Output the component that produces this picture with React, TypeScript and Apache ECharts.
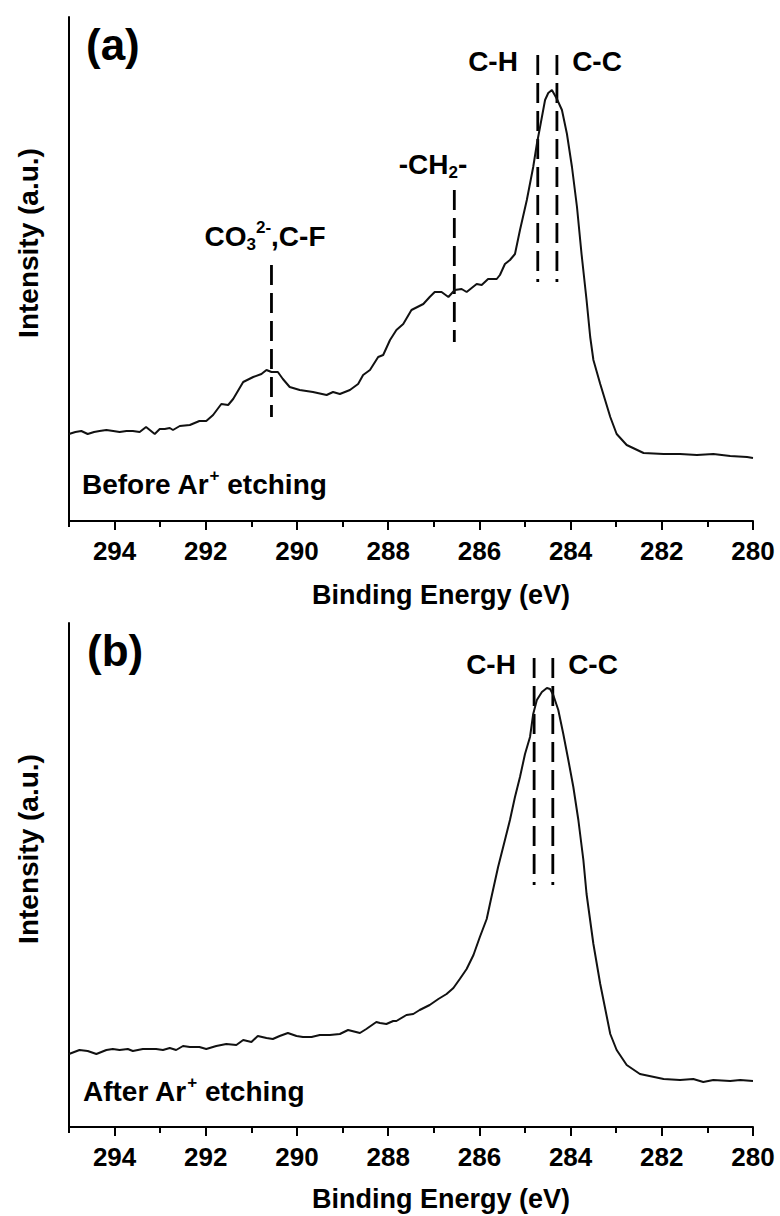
import React, { useEffect, useRef } from "react";
import * as echarts from "echarts";

// Panel (a): before Ar+ etching — binding energy (eV) vs intensity (a.u.)
const energyA = [295.0, 294.86, 294.73, 294.59, 294.45, 294.33, 294.18, 294.03, 293.89, 293.74, 293.6, 293.45, 293.31, 293.12, 293.01, 292.9, 292.79, 292.72, 292.57, 292.35, 292.14, 291.99, 291.84, 291.66, 291.51, 291.4, 291.18, 290.96, 290.78, 290.67, 290.56, 290.42, 290.31, 290.16, 289.94, 289.65, 289.35, 289.21, 289.06, 288.84, 288.66, 288.55, 288.4, 288.22, 288.11, 287.96, 287.82, 287.67, 287.49, 287.23, 287.09, 286.98, 286.83, 286.68, 286.54, 286.39, 286.28, 286.06, 285.95, 285.81, 285.62, 285.55, 285.44, 285.33, 285.22, 285.11, 284.96, 284.82, 284.74, 284.67, 284.56, 284.49, 284.41, 284.3, 284.19, 284.08, 283.97, 283.86, 283.76, 283.65, 283.57, 283.5, 283.35, 283.13, 282.99, 282.77, 282.4, 281.96, 281.6, 281.23, 280.87, 280.5, 280.13, 280.0];
const intensityA = [87, 89, 90, 87, 89, 90, 91, 90, 89, 90, 90, 89, 94, 87, 92, 92, 93, 91, 95, 96, 100, 100, 106, 117, 116, 122, 139, 144, 147, 151, 149, 149, 142, 134, 131, 129, 126, 129, 127, 131, 137, 146, 151, 164, 166, 181, 191, 197, 211, 217, 224, 229, 229, 224, 231, 232, 229, 237, 236, 242, 242, 246, 257, 261, 267, 291, 321, 354, 377, 394, 421, 428, 431, 422, 411, 387, 354, 314, 267, 221, 184, 161, 137, 104, 87, 76, 68, 67, 67, 66, 67, 65, 64, 63];

// Panel (b): after Ar+ etching
const energyB = [295.0, 294.77, 294.59, 294.4, 294.18, 294.04, 293.89, 293.71, 293.6, 293.38, 293.09, 292.94, 292.79, 292.65, 292.5, 292.35, 292.14, 291.99, 291.77, 291.55, 291.33, 291.18, 291.0, 290.86, 290.67, 290.53, 290.38, 290.2, 290.01, 289.87, 289.68, 289.5, 289.28, 289.06, 288.88, 288.62, 288.48, 288.26, 288.18, 288.04, 287.89, 287.82, 287.6, 287.45, 287.31, 287.09, 286.9, 286.72, 286.57, 286.43, 286.28, 286.13, 285.99, 285.84, 285.75, 285.59, 285.44, 285.33, 285.22, 285.11, 285.0, 284.89, 284.82, 284.74, 284.63, 284.52, 284.45, 284.38, 284.27, 284.16, 284.05, 283.94, 283.83, 283.72, 283.65, 283.5, 283.35, 283.13, 282.99, 282.77, 282.48, 281.96, 281.6, 281.31, 281.09, 280.87, 280.5, 280.28, 280.0];
const intensityB = [73, 77, 76, 73, 77, 78, 77, 78, 76, 78, 78, 77, 79, 77, 81, 80, 80, 78, 81, 83, 82, 87, 85, 91, 89, 88, 91, 94, 91, 90, 90, 92, 92, 93, 97, 94, 98, 105, 104, 103, 106, 106, 112, 113, 117, 122, 128, 133, 139, 148, 158, 172, 190, 208, 227, 260, 287, 307, 330, 350, 373, 390, 413, 427, 435, 439, 438, 432, 417, 393, 367, 340, 307, 267, 233, 183, 143, 93, 77, 62, 53, 48, 47, 48, 45, 47, 46, 47, 46];

// Reference peak positions (dashed markers)
const peakEnergiesA = [290.56, 286.55, 284.72, 284.3];
const peakTopA = [256, 331, 466, 466];
const peakBottomA = [104, 179, 239, 239];
const peakEnergiesB = [284.8, 284.39];
const peakTopB = [469, 469];
const peakBottomB = [242, 242];

// Texts
const xTickValues = [280, 282, 284, 286, 288, 290, 292, 294];
const xAxisTitle = "Binding Energy (eV)";
const yAxisTitle = "Intensity (a.u.)";

const FONT = "'Liberation Sans', Arial, Helvetica, sans-serif";

export default function App() {
  const ref = useRef<HTMLDivElement>(null);

  useEffect(() => {
    if (!ref.current) return;
    const chart = echarts.init(ref.current, undefined, { renderer: "svg" });

    const gridTops = [17, 623];
    const gridH = 504;

    const xMajor = (gridIndex: number) => ({
      type: "value",
      gridIndex,
      min: 280,
      max: 295,
      interval: 2,
      inverse: true,
      position: "bottom",
      axisLine: { show: false },
      axisTick: { show: true, length: 9, lineStyle: { color: "#000", width: 2 } },
      axisLabel: {
        show: true,
        margin: 17,
        color: "#000",
        fontSize: 26,
        fontWeight: "bold",
        fontFamily: FONT,
        showMaxLabel: false,
        showMinLabel: true,
        formatter: (v: number) => (xTickValues.indexOf(v) >= 0 ? String(v) : ""),
      },
      splitLine: { show: false },
    });
    const xMinor = (gridIndex: number) => ({
      type: "value",
      gridIndex,
      min: 280,
      max: 295,
      interval: 1,
      inverse: true,
      position: "bottom",
      axisLine: { show: true, lineStyle: { color: "#000", width: 2 } },
      axisTick: { show: true, length: 6, lineStyle: { color: "#000", width: 2 } },
      axisLabel: { show: false },
      splitLine: { show: false },
    });
    const yAx = (gridIndex: number) => ({
      type: "value",
      gridIndex,
      min: 0,
      max: 504,
      axisLine: { show: true, lineStyle: { color: "#000", width: 2 } },
      axisTick: { show: false },
      axisLabel: { show: false },
      splitLine: { show: false },
    });

    const curve = (xs: number[], ys: number[], xAxisIndex: number, yAxisIndex: number) => ({
      type: "line",
      xAxisIndex,
      yAxisIndex,
      data: xs.map((x, i) => [x, ys[i]]),
      showSymbol: false,
      symbol: "none",
      lineStyle: { color: "#111", width: 2 },
      z: 3,
    });
    const dashes = (es: number[], tops: number[], bottoms: number[], xAxisIndex: number, yAxisIndex: number) =>
      es.map((e, i) => ({
        type: "line",
        xAxisIndex,
        yAxisIndex,
        data: [
          [e, tops[i]],
          [e, bottoms[i]],
        ],
        showSymbol: false,
        symbol: "none",
        lineStyle: { color: "#000", width: 2.8, type: [20, 8] },
        z: 2,
      }));

    const rich = {
      n: { fontSize: 28, fontWeight: "bold", fontFamily: FONT, fill: "#000", lineHeight: 34 },
      sub: { fontSize: 17, fontWeight: "bold", fontFamily: FONT, fill: "#000", lineHeight: 18, verticalAlign: "bottom" },
      sup: { fontSize: 17, fontWeight: "bold", fontFamily: FONT, fill: "#000", lineHeight: 23, verticalAlign: "top" },
    };
    const txt = (text: string, x: number, y: number, size = 28, align = "center", rotation = 0) => ({
      type: "text",
      x,
      y,
      rotation,
      style: {
        text,
        fill: "#000",
        fontSize: size,
        fontWeight: "bold",
        fontFamily: FONT,
        align,
        verticalAlign: "middle",
        textAlign: align,
        textVerticalAlign: "middle",
        rich,
      },
    });

    chart.setOption({
      animation: false,
      backgroundColor: "#fff",
      grid: [
        { left: 69, right: 27, top: gridTops[0], height: gridH, containLabel: false },
        { left: 69, right: 27, top: gridTops[1], height: gridH, containLabel: false },
      ],
      xAxis: [xMinor(0), xMajor(0), xMinor(1), xMajor(1)],
      yAxis: [yAx(0), yAx(1)],
      series: [
        curve(energyA, intensityA, 0, 0),
        curve(energyB, intensityB, 2, 1),
        ...dashes(peakEnergiesA, peakTopA, peakBottomA, 0, 0),
        ...dashes(peakEnergiesB, peakTopB, peakBottomB, 2, 1),
      ],
      graphic: [
        txt("(a)", 86, 44, 44, "left"),
        txt("(b)", 87, 650, 44, "left"),
        txt("{n|CO}{sub|3}{sup|2-}{n|,C-F}", 265, 236),
        txt("{n|-CH}{sub|2}{n|-}", 433, 164),
        txt("C-H", 493, 61),
        txt("C-C", 597, 61),
        txt("C-H", 491, 664),
        txt("C-C", 593, 664),
        txt("{n|Before Ar}{sup|+}{n| etching}", 82, 484, 28, "left"),
        txt("{n|After Ar}{sup|+}{n| etching}", 83, 1091, 28, "left"),
        txt(xAxisTitle, 441, 595, 27),
        txt(xAxisTitle, 441, 1199, 27),
        txt(yAxisTitle, 28, 243, 28, "center", Math.PI / 2),
        txt(yAxisTitle, 28, 849, 28, "center", Math.PI / 2),
      ],
    });

    return () => chart.dispose();
  }, []);

  return (
    <div
      ref={ref}
      style={{ position: "absolute", left: 0, top: 0, width: 780, height: 1216, background: "#fff" }}
    />
  );
}
